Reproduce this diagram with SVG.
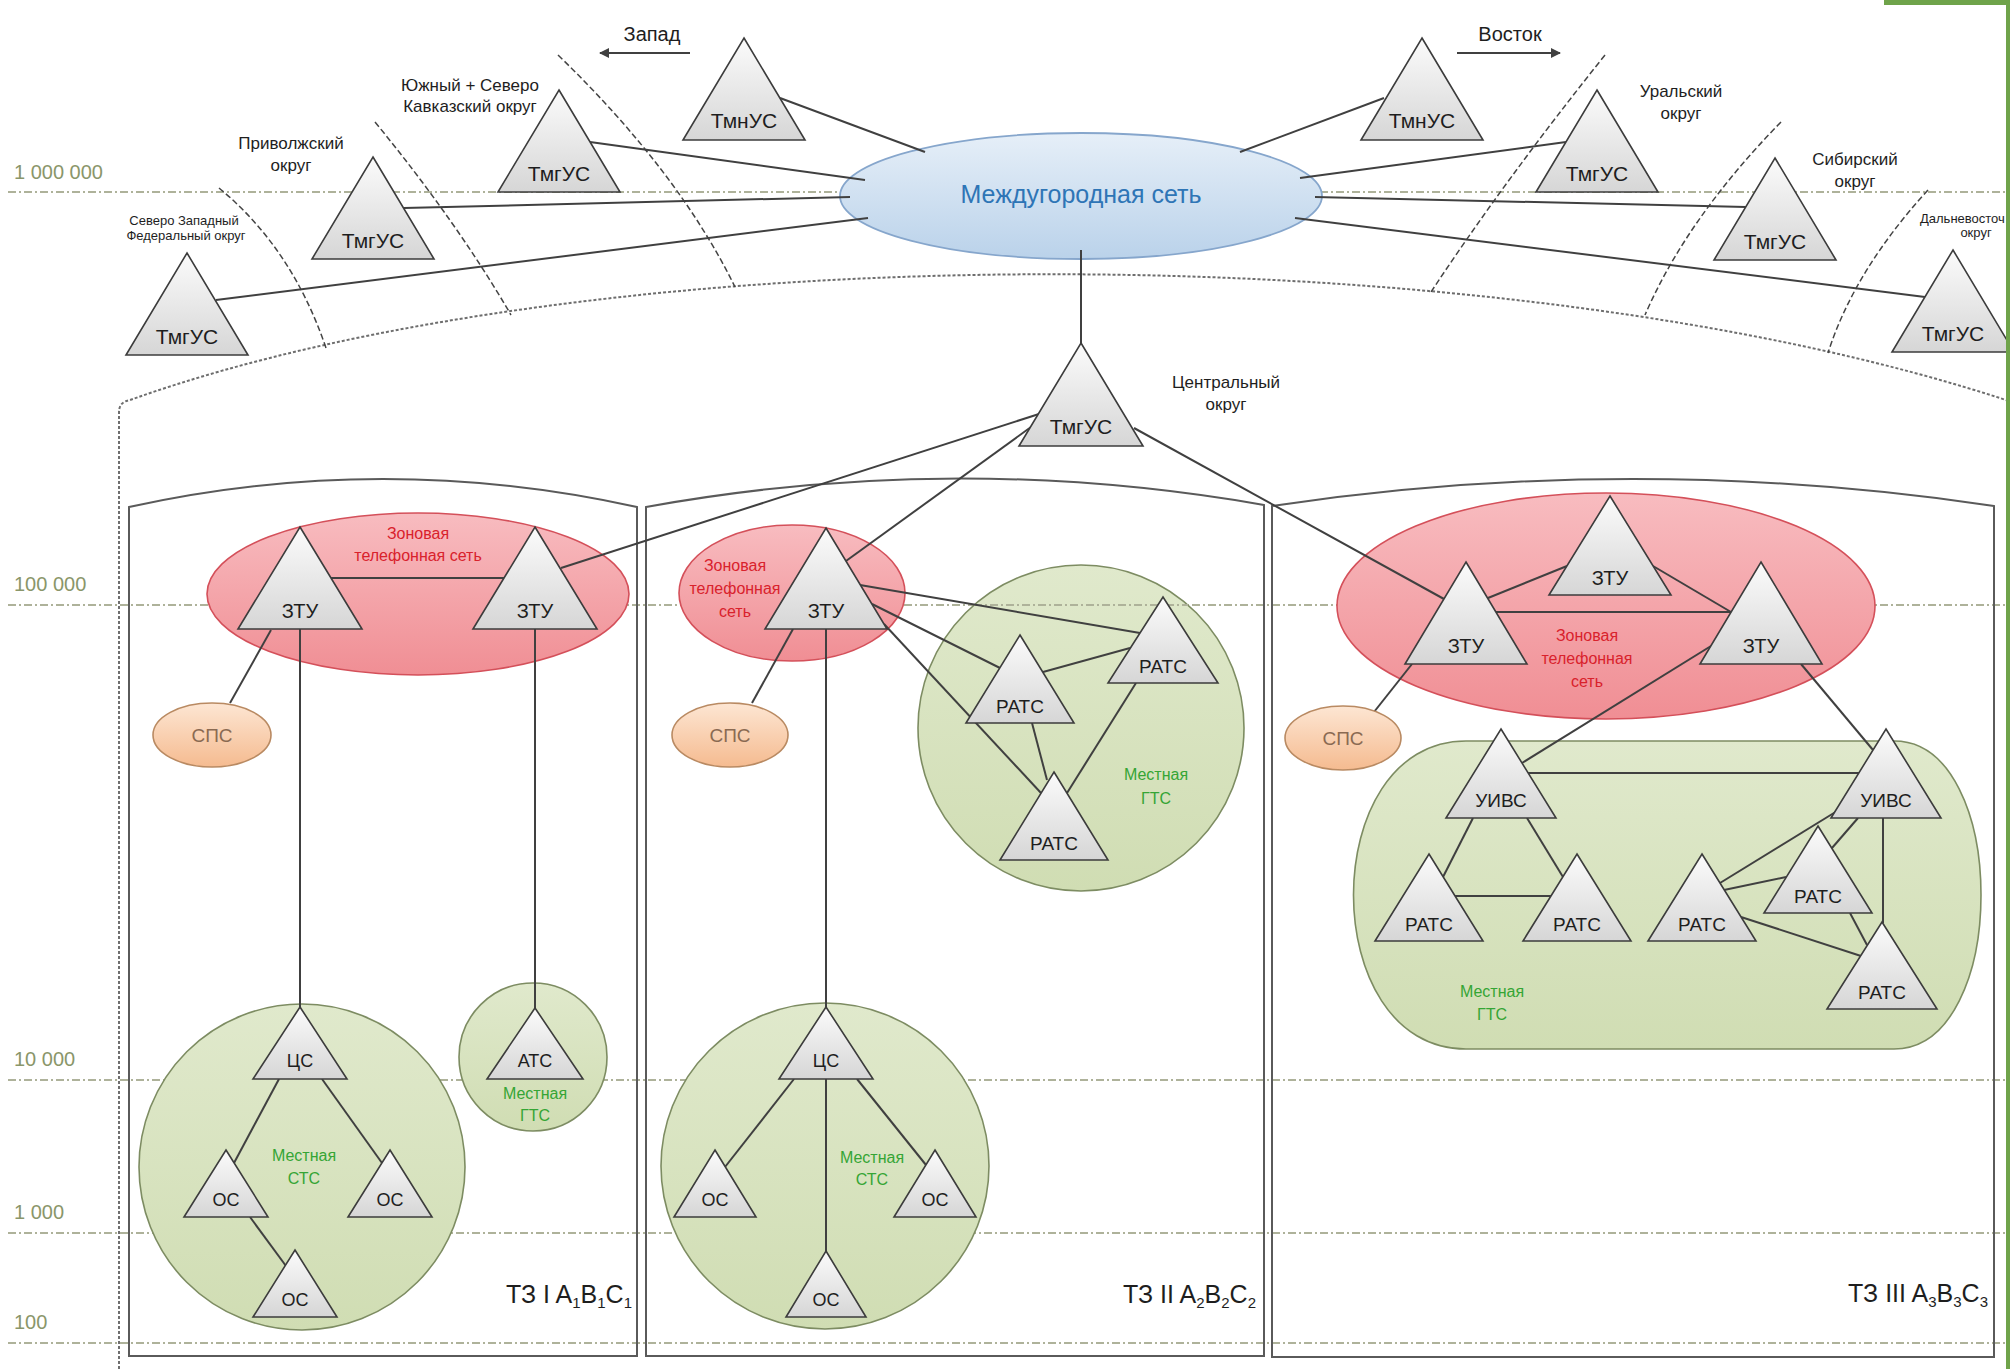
<svg xmlns="http://www.w3.org/2000/svg" width="2010" height="1369" viewBox="0 0 2010 1369">
<defs>
<linearGradient id="gTri" x1="0" y1="0" x2="0" y2="1"><stop offset="0" stop-color="#fbfbfb"/><stop offset="1" stop-color="#d6d6d6"/></linearGradient>
<linearGradient id="gBlue" x1="0" y1="0" x2="0" y2="1"><stop offset="0" stop-color="#e6eff8"/><stop offset="1" stop-color="#bad2ea"/></linearGradient>
<linearGradient id="gRed" x1="0" y1="0" x2="0" y2="1"><stop offset="0" stop-color="#f8bcc0"/><stop offset="1" stop-color="#f08e94"/></linearGradient>
<linearGradient id="gPeach" x1="0" y1="0" x2="0" y2="1"><stop offset="0" stop-color="#fde6d3"/><stop offset="1" stop-color="#f5bb90"/></linearGradient>
<linearGradient id="gGreen" x1="0" y1="0" x2="0" y2="1"><stop offset="0" stop-color="#e0e9cc"/><stop offset="1" stop-color="#d0ddb3"/></linearGradient>
<marker id="arr" viewBox="0 0 10 10" refX="9" refY="5" markerWidth="5" markerHeight="5" orient="auto-start-reverse"><path d="M0,0 L10,5 L0,10 z" fill="#404040"/></marker>
<style>
.lvl{stroke:#aeb29a;stroke-width:2;stroke-dasharray:8 3 2 3;fill:none}
.lvlt{font-family:"Liberation Sans",Arial,sans-serif;font-size:20px;fill:#8a966a}
.box{fill:none;stroke:#5a5a5a;stroke-width:2}
.arc{fill:none;stroke:#444;stroke-width:1.5;stroke-dasharray:6 3}
.bnd{fill:none;stroke:#6e6e6e;stroke-width:2;stroke-dasharray:3 2}
.conn line{stroke:#404040;stroke-width:2;fill:none}
.tri{fill:url(#gTri);stroke:#3c3c3c;stroke-width:1.6}
.red{fill:url(#gRed);stroke:#d4505a;stroke-width:1.6}
.grn{fill:url(#gGreen);stroke:#7d8c62;stroke-width:1.6}
.sps{fill:url(#gPeach);stroke:#b98a62;stroke-width:1.6}
.t{font-family:"Liberation Sans",Arial,sans-serif;text-anchor:middle;fill:#1e1e1e}
.tm{font-size:21px}
.tz{font-size:20px}
.tr{font-size:19px}
.ts{font-size:18px}
.lab{font-size:17px}
.sm{font-size:13px}
.rt{font-size:16px;fill:#d9222c}
.gt{font-size:16px;fill:#35a535}
.st{font-size:19px;fill:#8a6a52}
.zone{font-family:"Liberation Sans",Arial,sans-serif;font-size:25px;fill:#1e1e1e;text-anchor:end}
.sub{font-size:15px}
</style>
</defs>
<rect width="2010" height="1369" fill="#ffffff"/>

<g id="levels">
<line class="lvl" x1="8" y1="192" x2="2006" y2="192"/>
<line class="lvl" x1="8" y1="605" x2="2006" y2="605"/>
<line class="lvl" x1="8" y1="1080" x2="2006" y2="1080"/>
<line class="lvl" x1="8" y1="1233" x2="2006" y2="1233"/>
<line class="lvl" x1="8" y1="1343" x2="2006" y2="1343"/>
<text class="lvlt" x="14" y="179">1 000 000</text>
<text class="lvlt" x="14" y="591">100 000</text>
<text class="lvlt" x="14" y="1066">10 000</text>
<text class="lvlt" x="14" y="1219">1 000</text>
<text class="lvlt" x="14" y="1329">100</text>
</g>

<g id="boundaries">
<path class="bnd" d="M119,1369 L119,412 Q119,402 130,400 C600,232 1500,232 2012,402"/>
<path class="arc" d="M219,188 Q292,248 326,348"/>
<path class="arc" d="M375,122 Q457,222 511,315"/>
<path class="arc" d="M558,55 Q678,171 735,287"/>
<path class="arc" d="M1605,55 Q1505,180 1431,292"/>
<path class="arc" d="M1781,122 Q1687,218 1645,315"/>
<path class="arc" d="M1928,190 Q1854,271 1828,353"/>
</g>

<g id="zone-boxes">
<path class="box" d="M129,1356 L129,507 Q383,451 637,507 L637,1356 Z"/>
<path class="box" d="M646,1356 L646,507 Q955,451 1264,505 L1264,1356 Z"/>
<path class="box" d="M1272,1357 L1272,506 Q1633,452 1994,506 L1994,1357 Z"/>
</g>

<g id="directions">
<text class="t" x="652" y="41" style="font-size:20px">Запад</text>
<line x1="690" y1="53" x2="600" y2="53" stroke="#404040" stroke-width="2" marker-end="url(#arr)"/>
<text class="t" x="1510" y="41" style="font-size:20px">Восток</text>
<line x1="1457" y1="53" x2="1560" y2="53" stroke="#404040" stroke-width="2" marker-end="url(#arr)"/>
</g>

<g id="region-intercity"><ellipse cx="1081" cy="196" rx="241" ry="63" fill="url(#gBlue)" stroke="#86a6cc" stroke-width="1.8"/></g>
<g id="region-zone1"><ellipse class="red" cx="418" cy="594" rx="211" ry="81"/></g>
<g id="region-zone2"><ellipse class="red" cx="792" cy="593" rx="113" ry="68"/></g>
<g id="region-zone3"><ellipse class="red" cx="1606" cy="606" rx="269" ry="113"/></g>
<g id="region-sts1"><circle class="grn" cx="302" cy="1167" r="163"/></g>
<g id="region-gts1"><circle class="grn" cx="533" cy="1057" r="74"/></g>
<g id="region-gts2"><circle class="grn" cx="1081" cy="728" r="163"/><line class="lvl" x1="974" y1="605" x2="1188" y2="605"/></g>
<g id="region-sts2"><ellipse class="grn" cx="825" cy="1166" rx="164" ry="163"/></g>
<g id="region-gts3"><path class="grn" d="M1466,741 L1894,741 C2010,741 2010,1049 1894,1049 L1466,1049 C1316,1049 1316,741 1466,741 Z"/></g>

<g id="connectors" class="conn">
<line x1="780" y1="98" x2="925" y2="152"/>
<line x1="590" y1="142" x2="865" y2="180"/>
<line x1="404" y1="208" x2="850" y2="197"/>
<line x1="216" y1="300" x2="868" y2="218"/>
<line x1="1384" y1="98" x2="1240" y2="152"/>
<line x1="1566" y1="142" x2="1300" y2="178"/>
<line x1="1746" y1="207" x2="1315" y2="197"/>
<line x1="1925" y1="297" x2="1295" y2="218"/>
<line x1="1081" y1="250" x2="1081" y2="345"/>
<line x1="1039" y1="414" x2="561" y2="568"/>
<line x1="1031" y1="427" x2="846" y2="561"/>
<line x1="1134" y1="428" x2="1444" y2="599"/>
<line x1="331" y1="578" x2="504" y2="578"/>
<line x1="271" y1="630" x2="230" y2="703"/>
<line x1="300" y1="629" x2="300" y2="1008"/>
<line x1="535" y1="629" x2="535" y2="1009"/>
<line x1="279" y1="1079" x2="234" y2="1163"/>
<line x1="322" y1="1079" x2="382" y2="1163"/>
<line x1="250" y1="1217" x2="286" y2="1266"/>
<line x1="793" y1="629" x2="752" y2="703"/>
<line x1="826" y1="629" x2="826" y2="1252"/>
<line x1="860" y1="585" x2="1140" y2="633"/>
<line x1="872" y1="604" x2="1000" y2="668"/>
<line x1="884" y1="624" x2="1041" y2="793"/>
<line x1="1043" y1="672" x2="1130" y2="648"/>
<line x1="1032" y1="723" x2="1047" y2="780"/>
<line x1="1136" y1="683" x2="1067" y2="793"/>
<line x1="794" y1="1079" x2="725" y2="1167"/>
<line x1="857" y1="1079" x2="926" y2="1165"/>
<line x1="1488" y1="598" x2="1567" y2="566"/>
<line x1="1653" y1="566" x2="1731" y2="612"/>
<line x1="1496" y1="612" x2="1731" y2="612"/>
<line x1="1412" y1="664" x2="1374" y2="712"/>
<line x1="1711" y1="646" x2="1522" y2="763"/>
<line x1="1801" y1="664" x2="1873" y2="750"/>
<line x1="1528" y1="773" x2="1859" y2="773"/>
<line x1="1473" y1="818" x2="1443" y2="877"/>
<line x1="1527" y1="818" x2="1563" y2="877"/>
<line x1="1455" y1="896" x2="1551" y2="896"/>
<line x1="1720" y1="883" x2="1842" y2="808"/>
<line x1="1724" y1="890" x2="1786" y2="877"/>
<line x1="1741" y1="917" x2="1861" y2="956"/>
<line x1="1832" y1="848" x2="1858" y2="818"/>
<line x1="1850" y1="913" x2="1867" y2="945"/>
<line x1="1883" y1="818" x2="1883" y2="923"/>
</g>

<g id="intercity-label"><text class="t" x="1081" y="203" style="font-size:25px;fill:#2e75b6">Междугородная сеть</text></g>

<g id="n-tmn-w"><polygon class="tri" points="744,38 805,140 683,140"/><text class="t tm" x="744" y="128">ТмнУС</text></g>
<g id="n-tmn-e"><polygon class="tri" points="1422,38 1483,140 1361,140"/><text class="t tm" x="1422" y="128">ТмнУС</text></g>
<g id="n-tmg-south"><polygon class="tri" points="559,90 620,192 498,192"/><text class="t tm" x="559" y="181">ТмгУС</text></g>
<g id="n-tmg-volga"><polygon class="tri" points="373,157 434,259 312,259"/><text class="t tm" x="373" y="248">ТмгУС</text></g>
<g id="n-tmg-nw"><polygon class="tri" points="187,253 248,355 126,355"/><text class="t tm" x="187" y="344">ТмгУС</text></g>
<g id="n-tmg-ural"><polygon class="tri" points="1597,90 1658,192 1536,192"/><text class="t tm" x="1597" y="181">ТмгУС</text></g>
<g id="n-tmg-sib"><polygon class="tri" points="1775,158 1836,260 1714,260"/><text class="t tm" x="1775" y="249">ТмгУС</text></g>
<g id="n-tmg-fe"><polygon class="tri" points="1953,250 2014,352 1892,352"/><text class="t tm" x="1953" y="341">ТмгУС</text></g>
<g id="n-tmg-c"><polygon class="tri" points="1081,343 1143,446 1019,446"/><text class="t tm" x="1081" y="434">ТмгУС</text></g>

<g id="district-labels">
<text class="t lab" x="470" y="91">Южный + Северо</text>
<text class="t lab" x="470" y="112">Кавказский округ</text>
<text class="t lab" x="291" y="149">Приволжский</text>
<text class="t lab" x="291" y="171">округ</text>
<text class="t sm" x="184" y="225">Северо Западный</text>
<text class="t sm" x="186" y="240">Федеральный округ</text>
<text class="t lab" x="1681" y="97">Уральский</text>
<text class="t lab" x="1681" y="119">округ</text>
<text class="t lab" x="1855" y="165">Сибирский</text>
<text class="t lab" x="1855" y="187">округ</text>
<text class="sm" x="1920" y="223" style="font-family:'Liberation Sans',Arial,sans-serif;fill:#1e1e1e">Дальневосточ</text>
<text class="t sm" x="1976" y="237">округ</text>
<text class="t lab" x="1226" y="388">Центральный</text>
<text class="t lab" x="1226" y="410">округ</text>
</g>

<g id="n-zty1a"><polygon class="tri" points="300,527 362,629 238,629"/><text class="t tz" x="300" y="618">ЗТУ</text></g>
<g id="n-zty1b"><polygon class="tri" points="535,527 597,629 473,629"/><text class="t tz" x="535" y="618">ЗТУ</text></g>
<g id="n-sps1"><ellipse class="sps" cx="212" cy="735" rx="59" ry="32"/><text class="t st" x="212" y="742">СПС</text></g>
<g id="n-cs1"><polygon class="tri" points="300,1007 347,1079 253,1079"/><text class="t ts" x="300" y="1067">ЦС</text></g>
<g id="n-os1a"><polygon class="tri" points="226,1150 268,1217 184,1217"/><text class="t ts" x="226" y="1206">ОС</text></g>
<g id="n-os1b"><polygon class="tri" points="390,1150 432,1217 348,1217"/><text class="t ts" x="390" y="1206">ОС</text></g>
<g id="n-os1c"><polygon class="tri" points="295,1250 337,1317 253,1317"/><text class="t ts" x="295" y="1306">ОС</text></g>
<g id="n-atc1"><polygon class="tri" points="535,1008 583,1079 487,1079"/><text class="t ts" x="535" y="1067">АТС</text></g>

<g id="n-zty2"><polygon class="tri" points="826,528 887,629 765,629"/><text class="t tz" x="826" y="618">ЗТУ</text></g>
<g id="n-sps2"><ellipse class="sps" cx="730" cy="735" rx="58" ry="32"/><text class="t st" x="730" y="742">СПС</text></g>
<g id="n-ratc2a"><polygon class="tri" points="1020,635 1074,723 966,723"/><text class="t tr" x="1020" y="713">РАТС</text></g>
<g id="n-ratc2b"><polygon class="tri" points="1163,597 1218,683 1108,683"/><text class="t tr" x="1163" y="673">РАТС</text></g>
<g id="n-ratc2c"><polygon class="tri" points="1054,772 1108,860 1000,860"/><text class="t tr" x="1054" y="850">РАТС</text></g>
<g id="n-cs2"><polygon class="tri" points="826,1007 873,1079 779,1079"/><text class="t ts" x="826" y="1067">ЦС</text></g>
<g id="n-os2a"><polygon class="tri" points="715,1150 756,1217 674,1217"/><text class="t ts" x="715" y="1206">ОС</text></g>
<g id="n-os2b"><polygon class="tri" points="935,1150 976,1217 894,1217"/><text class="t ts" x="935" y="1206">ОС</text></g>
<g id="n-os2c"><polygon class="tri" points="826,1251 866,1317 786,1317"/><text class="t ts" x="826" y="1306">ОС</text></g>

<g id="n-zty3t"><polygon class="tri" points="1610,496 1671,595 1549,595"/><text class="t tz" x="1610" y="585">ЗТУ</text></g>
<g id="n-zty3l"><polygon class="tri" points="1466,562 1527,664 1405,664"/><text class="t tz" x="1466" y="653">ЗТУ</text></g>
<g id="n-zty3r"><polygon class="tri" points="1761,562 1822,664 1700,664"/><text class="t tz" x="1761" y="653">ЗТУ</text></g>
<g id="n-sps3"><ellipse class="sps" cx="1343" cy="738" rx="58" ry="32"/><text class="t st" x="1343" y="745">СПС</text></g>
<g id="n-uivs-l"><polygon class="tri" points="1501,729 1556,818 1446,818"/><text class="t tr" x="1501" y="807">УИВС</text></g>
<g id="n-uivs-r"><polygon class="tri" points="1886,729 1941,818 1831,818"/><text class="t tr" x="1886" y="807">УИВС</text></g>
<g id="n-r3a"><polygon class="tri" points="1429,854 1483,941 1375,941"/><text class="t tr" x="1429" y="931">РАТС</text></g>
<g id="n-r3b"><polygon class="tri" points="1577,854 1631,941 1523,941"/><text class="t tr" x="1577" y="931">РАТС</text></g>
<g id="n-r3c"><polygon class="tri" points="1702,854 1756,941 1648,941"/><text class="t tr" x="1702" y="931">РАТС</text></g>
<g id="n-r3d"><polygon class="tri" points="1818,826 1872,913 1764,913"/><text class="t tr" x="1818" y="903">РАТС</text></g>
<g id="n-r3e"><polygon class="tri" points="1882,922 1937,1009 1827,1009"/><text class="t tr" x="1882" y="999">РАТС</text></g>

<g id="region-labels">
<text class="t rt" x="418" y="539">Зоновая</text>
<text class="t rt" x="418" y="561">телефонная сеть</text>
<text class="t rt" x="735" y="571">Зоновая</text>
<text class="t rt" x="735" y="594">телефонная</text>
<text class="t rt" x="735" y="617">сеть</text>
<text class="t rt" x="1587" y="641">Зоновая</text>
<text class="t rt" x="1587" y="664">телефонная</text>
<text class="t rt" x="1587" y="687">сеть</text>
<text class="t gt" x="304" y="1161">Местная</text>
<text class="t gt" x="304" y="1184">СТС</text>
<text class="t gt" x="535" y="1099">Местная</text>
<text class="t gt" x="535" y="1121">ГТС</text>
<text class="t gt" x="1156" y="780">Местная</text>
<text class="t gt" x="1156" y="804">ГТС</text>
<text class="t gt" x="872" y="1163">Местная</text>
<text class="t gt" x="872" y="1185">СТС</text>
<text class="t gt" x="1492" y="997">Местная</text>
<text class="t gt" x="1492" y="1020">ГТС</text>
</g>

<g id="zone-titles">
<text class="zone" x="632" y="1303">ТЗ I A<tspan class="sub" dy="5">1</tspan><tspan dy="-5">B</tspan><tspan class="sub" dy="5">1</tspan><tspan dy="-5">C</tspan><tspan class="sub" dy="5">1</tspan></text>
<text class="zone" x="1256" y="1303">ТЗ II A<tspan class="sub" dy="5">2</tspan><tspan dy="-5">B</tspan><tspan class="sub" dy="5">2</tspan><tspan dy="-5">C</tspan><tspan class="sub" dy="5">2</tspan></text>
<text class="zone" x="1988" y="1302">ТЗ III A<tspan class="sub" dy="5">3</tspan><tspan dy="-5">B</tspan><tspan class="sub" dy="5">3</tspan><tspan dy="-5">C</tspan><tspan class="sub" dy="5">3</tspan></text>
</g>

<g id="frame-edge">
<rect x="1884" y="0" width="126" height="5" fill="#6fa34a"/>
<rect x="2006" y="0" width="4" height="1369" fill="#6fa34a"/>
</g>
</svg>
